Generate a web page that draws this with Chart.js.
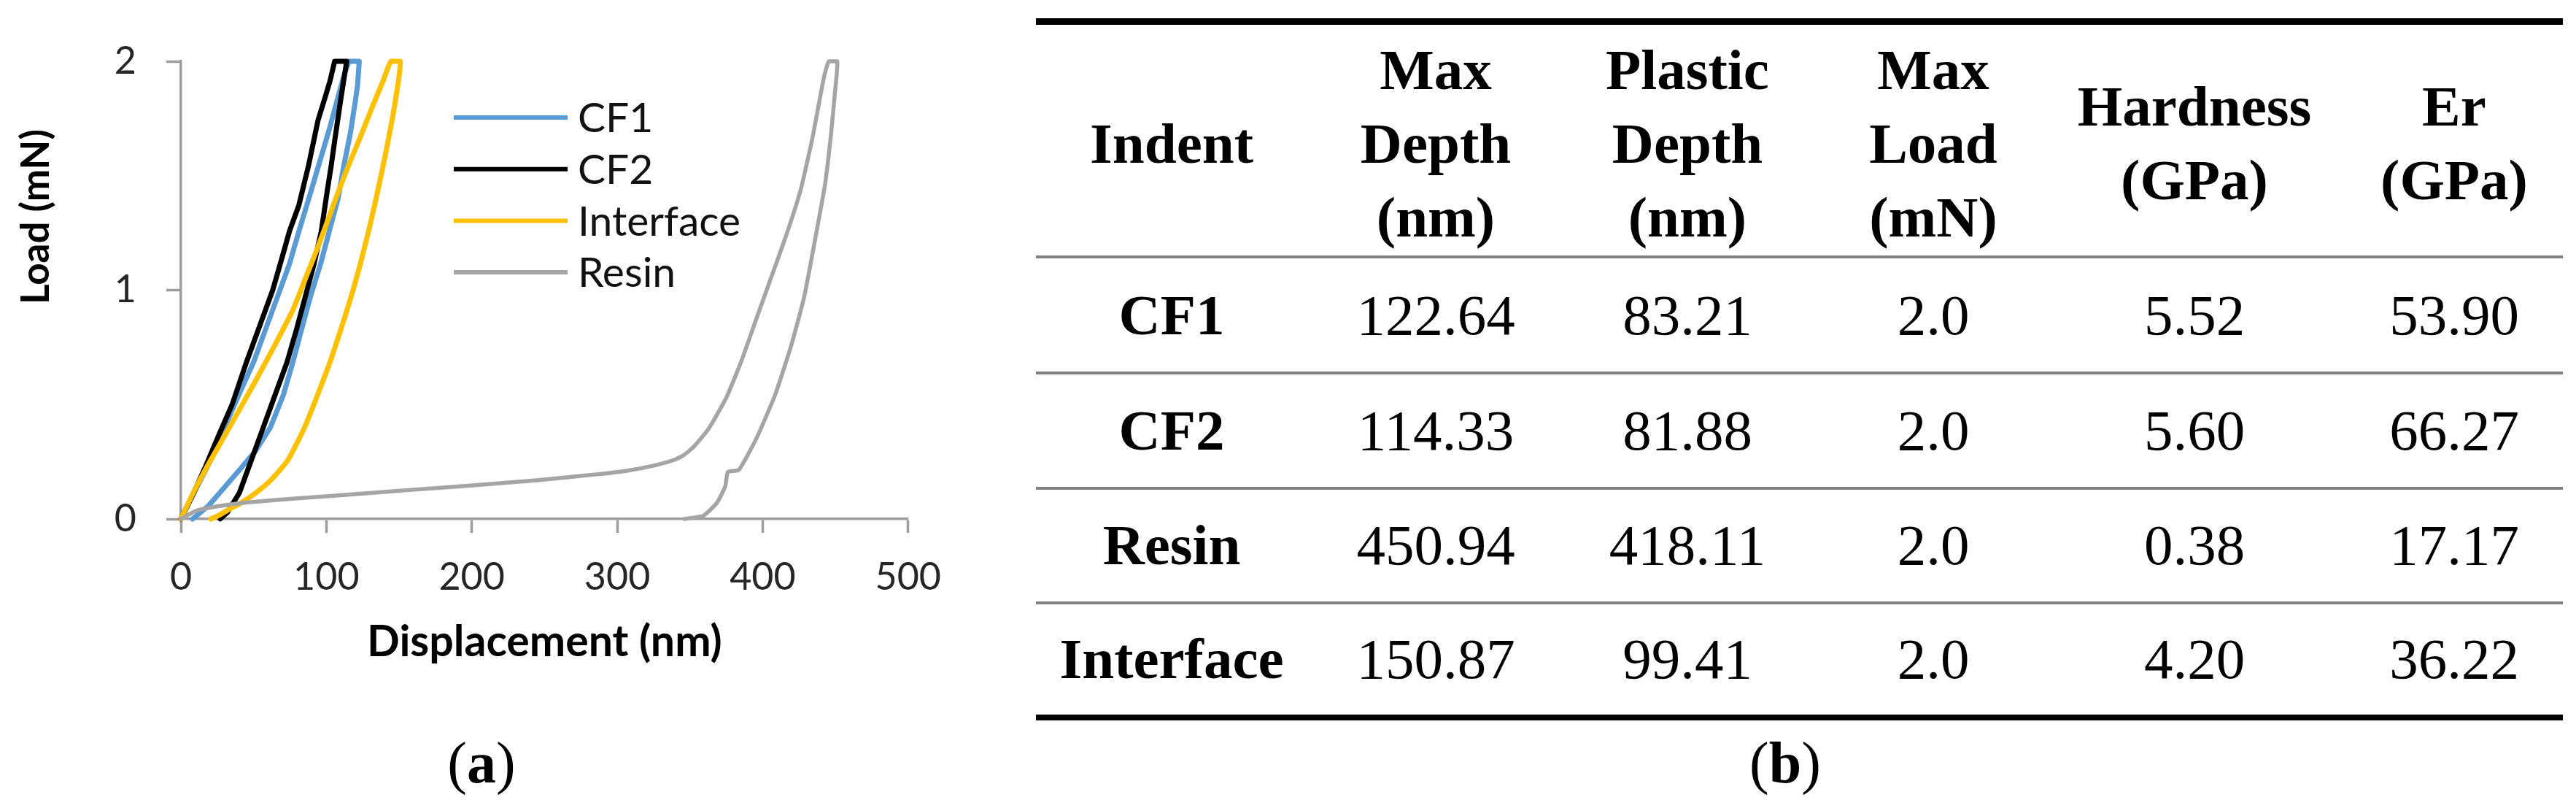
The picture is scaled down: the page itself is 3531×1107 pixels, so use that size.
<!DOCTYPE html>
<html>
<head>
<meta charset="utf-8">
<script src="https://cdn.jsdelivr.net/npm/chart.js@4.4.1/dist/chart.umd.min.js"></script>
<style>
html,body{margin:0;padding:0;background:#fff;}
body{width:3531px;height:1107px;position:relative;overflow:hidden;}
#chartBox{position:absolute;left:0;top:0;width:1320px;height:1107px;}
.cap{position:absolute;font-family:"Liberation Serif","Times New Roman",serif;font-size:80px;line-height:1;transform:translate(-50%,-50%);white-space:nowrap;color:#000;}
.tline{position:absolute;left:1420px;width:2093px;}
.cell{position:absolute;transform:translate(-50%,-50%);text-align:center;white-space:nowrap;font-family:"Liberation Serif","Times New Roman",serif;font-size:79px;color:#000;}
.hcell{font-weight:bold;line-height:101px;}
.bcell{font-weight:bold;}
</style>
</head>
<body>
<div id="chartBox"><canvas id="c"></canvas></div>
<div class="cap" style="left:660px;top:1045px;">(<b>a</b>)</div>
<div class="cap" style="left:2447px;top:1045px;">(<b>b</b>)</div>
<div id="table"></div>
<script>
// ---- chart data ----
const seriesNames = ['CF1', 'CF2', 'Interface', 'Resin'];
const seriesColors = ['#5B9BD5', '#000000', '#FFC000', '#A5A5A5'];
const xTicks = [0, 100, 200, 300, 400, 500];
const yTicks = [0, 1, 2];
const xTitle = 'Displacement (nm)';
const yTitle = 'Load (mN)';

const cf1Disp = [0, 9, 20.5, 32, 41.8, 50, 58.2, 66.4, 74.6, 81.1, 89.3, 95.9, 102.5, 107.4, 112.3, 115.6, 119, 122.6, 121.5, 120, 116.5, 112, 108, 102, 96, 89, 83, 77, 70.5, 61.5, 51.6, 40.2, 28.7, 18.9, 8];
const cf1Load = [0, 0.114, 0.257, 0.429, 0.571, 0.686, 0.829, 0.971, 1.114, 1.257, 1.429, 1.571, 1.714, 1.829, 1.943, 2.0, 2.0, 2.0, 1.9, 1.829, 1.686, 1.543, 1.4, 1.257, 1.114, 0.971, 0.829, 0.686, 0.543, 0.4, 0.3, 0.214, 0.129, 0.057, 0];

const cf2Disp = [0, 8.5, 17, 25.4, 35.2, 45.1, 54.9, 63.1, 69, 74.6, 81.1, 87.7, 94.3, 99, 102.5, 105.7, 110, 114.0, 112, 109.8, 107.5, 105.5, 103.3, 100.5, 96.5, 91.5, 85.5, 79.5, 73.0, 64.8, 56.6, 48.4, 40.2, 32.0, 27.0];
const cf2Load = [0, 0.11, 0.23, 0.357, 0.5, 0.686, 0.857, 1.0, 1.13, 1.257, 1.371, 1.543, 1.743, 1.84, 1.914, 2.0, 2.0, 2.0, 1.92, 1.829, 1.73, 1.643, 1.543, 1.429, 1.257, 1.114, 0.971, 0.829, 0.686, 0.543, 0.4, 0.257, 0.114, 0.029, 0];

const ifDisp = [0, 8.5, 18, 29.5, 41, 53.5, 65.5, 77, 86, 94, 101.5, 109, 116, 123.5, 131.5, 139, 144.5, 150.8, 147.5, 143.5, 139, 134.2, 129, 123.3, 117, 110, 102.5, 94, 85, 73.5, 62, 51.5, 41.5, 33.5, 25.5, 20.6];
const ifLoad = [0, 0.114, 0.229, 0.357, 0.486, 0.629, 0.771, 0.914, 1.057, 1.186, 1.314, 1.443, 1.557, 1.671, 1.8, 1.914, 2.0, 2.0, 1.829, 1.686, 1.543, 1.4, 1.257, 1.114, 0.971, 0.829, 0.686, 0.543, 0.4, 0.257, 0.171, 0.114, 0.071, 0.043, 0.014, 0];

const resinDisp = [0, 10, 25, 45, 80, 122.9, 160, 200.6, 244.9, 285.6, 305.9, 326.3, 340, 346, 352.7, 362.9, 375.1, 385.3, 395.4, 405.6, 415.8, 426, 434.1, 442.2, 445.5, 451.3, 449.5, 447, 443, 437, 428.5, 419.5, 408.5, 396, 383.6, 376.1, 374.3, 368.6, 359.2, 346.1];
const resinLoad = [0, 0.035, 0.055, 0.072, 0.09, 0.11, 0.128, 0.147, 0.169, 0.195, 0.21, 0.235, 0.26, 0.28, 0.316, 0.395, 0.531, 0.689, 0.87, 1.051, 1.232, 1.435, 1.661, 1.932, 2.0, 2.0, 1.85, 1.681, 1.467, 1.254, 0.969, 0.755, 0.541, 0.356, 0.214, 0.206, 0.143, 0.071, 0.014, 0];

// ---- table data ----
const tableHeaders = ['Indent', 'Max\nDepth\n(nm)', 'Plastic\nDepth\n(nm)', 'Max\nLoad\n(mN)', 'Hardness\n(GPa)', 'Er\n(GPa)'];
const indentNames = ['CF1', 'CF2', 'Resin', 'Interface'];
const maxDepth = ['122.64', '114.33', '450.94', '150.87'];
const plasticDepth = ['83.21', '81.88', '418.11', '99.41'];
const maxLoad = ['2.0', '2.0', '2.0', '2.0'];
const hardness = ['5.52', '5.60', '0.38', '4.20'];
const erValues = ['53.90', '66.27', '17.17', '36.22'];

// ---- build chart ----
const xy = (xs, ys) => xs.map((x, i) => ({x: x, y: ys[i]}));
const allSeries = [xy(cf1Disp, cf1Load), xy(cf2Disp, cf2Load), xy(ifDisp, ifLoad), xy(resinDisp, resinLoad)];
const widths = [7, 7, 7, 5.5];
const tensions = [0, 0, 0.2, 0.15];

const axisColor = '#9d9d9d';
const FONT = 'Lato, "Open Sans", sans-serif';

const overlay = {
  id: 'overlay',
  afterDraw(chart) {
    const ctx = chart.ctx;
    ctx.save();
    ctx.translate(50, 297);
    ctx.rotate(-Math.PI / 2);
    ctx.font = 'bold 53px ' + FONT;
    ctx.fillStyle = '#000';
    ctx.textAlign = 'center';
    ctx.textBaseline = 'middle';
    ctx.fillText(yTitle, 0, 0);
    ctx.restore();
    // legend
    ctx.save();
    ctx.font = '57px ' + FONT;
    ctx.textAlign = 'left';
    ctx.textBaseline = 'middle';
    chart.data.datasets.forEach((ds, i) => {
      const y = 161 + i * 70.7;
      ctx.strokeStyle = ds.borderColor;
      ctx.lineWidth = 6;
      ctx.beginPath();
      ctx.moveTo(622, y);
      ctx.lineTo(778, y);
      ctx.stroke();
      ctx.fillStyle = '#111';
      ctx.fillText(ds.label, 792, y + 2);
    });
    ctx.restore();
  }
};

new Chart(document.getElementById('c'), {
  type: 'scatter',
  data: {
    datasets: seriesNames.map((n, i) => ({
      label: n,
      data: allSeries[i],
      showLine: true,
      borderColor: seriesColors[i],
      backgroundColor: seriesColors[i],
      borderWidth: widths[i],
      pointRadius: 0,
      tension: tensions[i],
      borderJoinStyle: 'round',
      borderCapStyle: 'round',
      order: 4 - i,
      clip: false
    }))
  },
  options: {
    responsive: true,
    maintainAspectRatio: false,
    devicePixelRatio: 1,
    animation: false,
    events: [],
    layout: {padding: {left: 0, top: 84, right: 54, bottom: 192}},
    plugins: {legend: {display: false}, tooltip: {enabled: false}},
    scales: {
      x: {
        type: 'linear', min: 0, max: 500,
        afterBuildTicks: (s) => { s.ticks = xTicks.map(v => ({value: v})); },
        afterFit: (s) => { s.height = 204; },
        grid: {drawOnChartArea: false, drawTicks: true, tickLength: 19, tickWidth: 3.5, tickColor: axisColor, color: axisColor},
        border: {display: true, color: axisColor, width: 3.5},
        ticks: {font: {family: FONT, size: 52}, color: '#262626', padding: 30, maxRotation: 0},
        title: {display: true, text: xTitle, font: {family: FONT, size: 59, weight: 'bold'}, color: '#000', padding: 0}
      },
      y: {
        type: 'linear', min: 0, max: 2,
        afterBuildTicks: (s) => { s.ticks = yTicks.map(v => ({value: v})); },
        afterFit: (s) => { s.width = 248; },
        grid: {drawOnChartArea: false, drawTicks: true, tickLength: 20, tickWidth: 3.5, tickColor: axisColor, color: axisColor},
        border: {display: true, color: axisColor, width: 3.5},
        ticks: {font: {family: FONT, size: 52}, color: '#262626', padding: 41},
        title: {display: false}
      }
    }
  },
  plugins: [overlay]
});

// ---- build table ----
const tbl = document.getElementById('table');
const colCenters = [1606, 1968, 2313, 2650, 3008, 3364];
const lines = [[25, 9, '#000'], [350, 4, '#808080'], [509, 4, '#808080'], [667, 4, '#808080'], [824, 4, '#808080'], [979, 8, '#000']];
lines.forEach(l => {
  const d = document.createElement('div');
  d.className = 'tline';
  d.style.top = l[0] + 'px'; d.style.height = l[1] + 'px'; d.style.background = l[2];
  tbl.appendChild(d);
});
function addCell(text, cx, cy, cls) {
  const d = document.createElement('div');
  d.className = 'cell ' + cls;
  d.style.left = cx + 'px'; d.style.top = cy + 'px';
  text.split('\n').forEach((t, k) => {
    if (k) d.appendChild(document.createElement('br'));
    d.appendChild(document.createTextNode(t));
  });
  tbl.appendChild(d);
}
tableHeaders.forEach((h, j) => addCell(h, colCenters[j], 196, 'hcell'));
const rowCenters = [432, 590, 747, 903];
const cols = [indentNames, maxDepth, plasticDepth, maxLoad, hardness, erValues];
rowCenters.forEach((cy, r) => {
  cols.forEach((col, j) => addCell(col[r], colCenters[j], cy, j === 0 ? 'bcell' : ''));
});
</script>
</body>
</html>
